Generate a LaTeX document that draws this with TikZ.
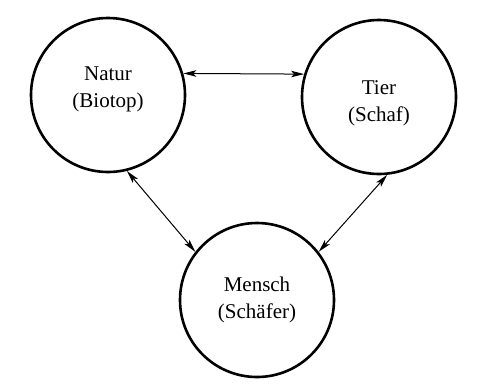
\documentclass[tikz,border=0pt]{standalone}
\usepackage{fontspec}
\setmainfont{Liberation Serif}
\usetikzlibrary{arrows.meta}
\tikzset{
  >={Stealth[length=13pt, width=6.5pt, inset=3pt]},
  x=1pt, y=-1pt,
  sphere/.style={circle, draw, line width=2.6pt, minimum size=154pt},
  every label/.style={align=center, font=\fontsize{21}{27}\selectfont},
  link/.style={<->, line width=1pt},
}

\begin{document}
\begin{tikzpicture}
      \useasboundingbox (0,0) rectangle (484,389);

      \node[sphere, label={[yshift=6pt]center:Natur\\(Biotop)}]    (natur)  at (108,95)  {};
      \node[sphere, label={[yshift=-6pt]center:Tier\\(Schaf)}]     (tier)   at (379,97)  {};
      \node[sphere, label={center:Mensch\\(Schäfer)}]              (mensch) at (257,300) {};

      \draw[link] (natur.16)  -- (tier.163);
      \draw[link] (natur.-76) -- (mensch.142);
      \draw[link] (tier.-84)  -- (mensch.38);
\end{tikzpicture}
\end{document}
